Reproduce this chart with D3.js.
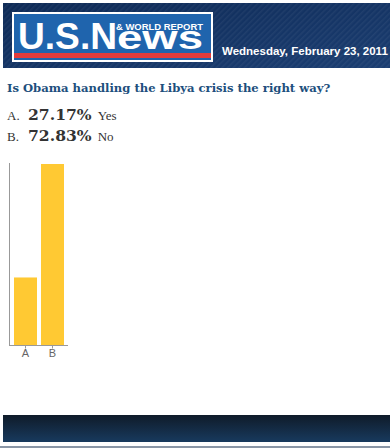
<!DOCTYPE html>
<html><head><meta charset="utf-8">
<script src="https://cdn.jsdelivr.net/npm/d3@7"></script>
<style>html,body{margin:0;padding:0;background:#fff;}svg{display:block;}</style>
</head><body>
<div id="chart"></div>
<script>
const categories = ["A", "B"];
const values = [27.17, 72.83];
const answers = ["Yes", "No"];
const question = "Is Obama handling the Libya crisis the right way?";
const dateText = "Wednesday, February 23, 2011";

const W = 390, H = 448;
const svg = d3.select("#chart").append("svg").attr("width", W).attr("height", H);
const defs = svg.append("defs");

// header gradient + stripes
const hg = defs.append("linearGradient").attr("id","hg").attr("x1","0").attr("y1","0").attr("x2","1").attr("y2","1");
hg.append("stop").attr("offset","0").attr("stop-color","#0e2a56");
hg.append("stop").attr("offset","1").attr("stop-color","#1b3e72");
const pat = defs.append("pattern").attr("id","stripes").attr("width",4).attr("height",4)
  .attr("patternUnits","userSpaceOnUse").attr("patternTransform","rotate(45)");
pat.append("rect").attr("width",1.5).attr("height",4).attr("fill","rgba(255,255,255,0.05)");
const fg = defs.append("linearGradient").attr("id","fg").attr("x1","0").attr("y1","0").attr("x2","0").attr("y2","1");
fg.append("stop").attr("offset","0").attr("stop-color","#0f1b29");
fg.append("stop").attr("offset","1").attr("stop-color","#183a5e");

// Header
svg.append("rect").attr("x",3).attr("y",3).attr("width",W-3).attr("height",65).attr("fill","url(#hg)");
svg.append("rect").attr("x",3).attr("y",3).attr("width",W-3).attr("height",65).attr("fill","url(#stripes)");
// logo
svg.append("rect").attr("x",12).attr("y",12).attr("width",201).attr("height",50).attr("fill","#ffffff");
svg.append("rect").attr("x",14).attr("y",14).attr("width",197).attr("height",46).attr("fill","#1f64ad");
svg.append("rect").attr("x",14).attr("y",53).attr("width",197).attr("height",5).attr("fill","#e23b3b");
svg.append("text").attr("x",18).attr("y",49).attr("textLength",99).attr("lengthAdjust","spacingAndGlyphs")
  .attr("font-family","Liberation Sans, Arial, sans-serif").attr("font-weight","bold").attr("font-size",36)
  .attr("fill","#ffffff").text("U.S.N");
svg.append("text").attr("x",117).attr("y",49).attr("textLength",86).attr("lengthAdjust","spacingAndGlyphs")
  .attr("font-family","Liberation Sans, Arial, sans-serif").attr("font-weight","bold").attr("font-size",34)
  .attr("fill","#ffffff").text("ews");
svg.append("text").attr("x",116).attr("y",30).attr("textLength",87).attr("lengthAdjust","spacingAndGlyphs")
  .attr("font-family","Liberation Sans, Arial, sans-serif").attr("font-weight","bold").attr("font-size",9.5)
  .attr("fill","#ffffff").text("& WORLD REPORT");
svg.append("text").attr("x",222).attr("y",55)
  .attr("font-family","Liberation Sans, Arial, sans-serif").attr("font-weight","bold").attr("font-size",11.5)
  .attr("fill","#ffffff").text(dateText);

// Question
svg.append("text").attr("x",7).attr("y",92)
  .attr("font-family","DejaVu Serif, Georgia, serif").attr("font-weight","bold").attr("font-size",11.6)
  .attr("fill","#1d4f7d").text(question);

// answers rows
const rowY = [120, 141];
categories.forEach((c, i) => {
  const g = svg.append("g");
  g.append("text").attr("x",7).attr("y",rowY[i]).attr("font-family","Liberation Serif, Times New Roman, serif")
    .attr("font-size",13).attr("fill","#333").text(c + ".");
  const pt = g.append("text").attr("x",28).attr("y",rowY[i]).attr("font-family","DejaVu Serif, Georgia, serif")
    .attr("font-weight","bold").attr("font-size",15.6).attr("fill","#333").text(values[i].toFixed(2) + "%");
  const w = pt.node().getComputedTextLength();
  g.append("text").attr("x",28 + w + 6).attr("y",rowY[i]).attr("font-family","Liberation Serif, Times New Roman, serif")
    .attr("font-size",13).attr("fill","#333").text(answers[i]);
});

// Chart
const x = d3.scaleBand().domain(categories).range([14, 64]).paddingInner(0.148).paddingOuter(0);
const y = d3.scaleLinear().domain([0, d3.max(values)]).range([345, 164]);

svg.append("g").selectAll("rect").data(values).join("rect")
  .attr("x",(d,i)=>x(categories[i])).attr("width",x.bandwidth())
  .attr("y",d=>y(d)).attr("height",d=>y(0)-y(d)).attr("fill","#ffc933");

// y axis line
svg.append("line").attr("x1",9.5).attr("x2",9.5).attr("y1",163).attr("y2",345.5).attr("stroke","#999").attr("stroke-width",1);
// x axis
const xAxis = d3.axisBottom(x).tickSize(3).tickSizeOuter(0);
const xg = svg.append("g").attr("transform","translate(0,345.5)").call(xAxis);
xg.select(".domain").remove();
xg.append("line").attr("x1",9).attr("x2",68).attr("y1",0).attr("y2",0).attr("stroke","#999");
xg.selectAll(".tick line").attr("stroke","#999");
xg.selectAll(".tick text").attr("font-family","Liberation Sans, Arial, sans-serif").attr("font-size",11)
  .attr("fill","#666").attr("dy","0.71em").attr("y",4);

// Footer
svg.append("rect").attr("x",3).attr("y",415).attr("width",W-3).attr("height",27).attr("fill","url(#fg)");
svg.append("rect").attr("x",0).attr("y",446).attr("width",W).attr("height",2).attr("fill","#8a96a6");
</script>
</body></html>
